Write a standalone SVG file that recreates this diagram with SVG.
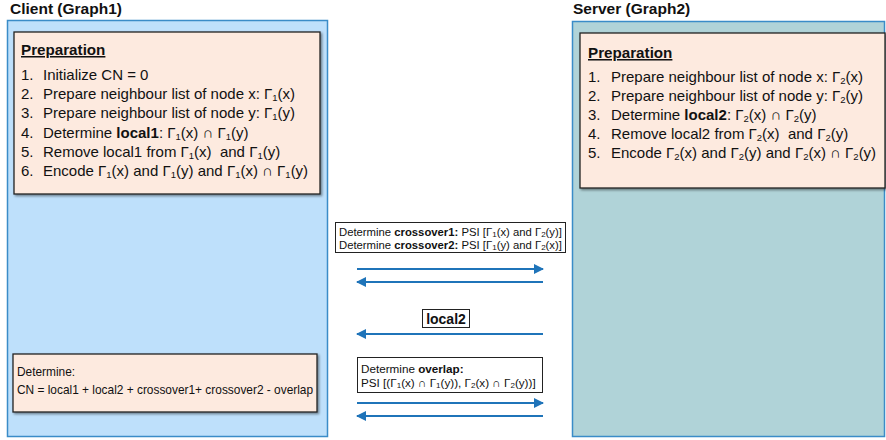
<svg xmlns="http://www.w3.org/2000/svg" width="886" height="440" viewBox="0 0 886 440">
<style>
text{font-family:"Liberation Sans",Arial,sans-serif;fill:#111}
.title{font-size:15.5px;font-weight:bold}
.t{font-size:15px}
.h{font-size:15.2px;font-weight:bold;text-decoration:underline}
.l2{font-size:14px;font-weight:bold}
.m{font-size:11.3px}
.c{font-size:11.9px}
.o{font-size:11.7px}
.s{font-size:9.5px;baseline-shift:-1.5px}
.ms{font-size:8px;baseline-shift:-1px}
.b{font-weight:bold}
.box{fill:#fdeadf;stroke:#222;stroke-width:1.3}
.wbox{fill:#fff;stroke:#222;stroke-width:1}
.arr{stroke:#1f74b9;stroke-width:2;fill:none}
</style>
<defs>
<filter id="sh" x="-5%" y="-5%" width="115%" height="115%">
<feDropShadow dx="1.5" dy="1.5" stdDeviation="1" flood-color="#000" flood-opacity="0.45"/>
</filter>
<marker id="ah" viewBox="0 0 10 10" refX="9" refY="5" markerWidth="5" markerHeight="5" orient="auto-start-reverse" markerUnits="strokeWidth">
<path d="M0,0 L10,5 L0,10 z" fill="#1f74b9"/>
</marker>
</defs>

<g id="client">
<text class="title" x="10" y="14">Client (Graph1)</text>
<rect x="7.5" y="20.5" width="320" height="416" fill="#bee0fb" stroke="#3a8cc8" stroke-width="1.5"/>
</g>

<g id="server">
<text class="title" x="573" y="14">Server (Graph2)</text>
<rect x="572.5" y="21.5" width="312" height="415" fill="#b0d3d8" stroke="#3a8cc8" stroke-width="1.5"/>
</g>

<g id="client-prep">
<rect class="box" x="14" y="32" width="306" height="162" filter="url(#sh)"/>
<text class="h" x="21" y="55">Preparation</text>
<text class="t" x="21" y="80">1.<tspan x="43">Initialize CN = 0</tspan></text>
<text class="t" x="21" y="99">2.<tspan x="43">Prepare neighbour list of node x: Γ</tspan><tspan class="s">1</tspan>(x)</text>
<text class="t" x="21" y="118">3.<tspan x="43">Prepare neighbour list of node y: Γ</tspan><tspan class="s">1</tspan>(y)</text>
<text class="t" x="21" y="138">4.<tspan x="43">Determine </tspan><tspan class="b">local1</tspan>: Γ<tspan class="s">1</tspan>(x) ∩ Γ<tspan class="s">1</tspan>(y)</text>
<text class="t" x="21" y="157">5.<tspan x="43">Remove local1 from Γ</tspan><tspan class="s">1</tspan>(x)&#160; and Γ<tspan class="s">1</tspan>(y)</text>
<text class="t" x="21" y="176">6.<tspan x="43">Encode Γ</tspan><tspan class="s">1</tspan>(x) and Γ<tspan class="s">1</tspan>(y) and Γ<tspan class="s">1</tspan>(x) ∩ Γ<tspan class="s">1</tspan>(y)</text>
</g>

<g id="server-prep">
<rect class="box" x="580" y="33" width="305" height="155" filter="url(#sh)"/>
<text class="h" x="588" y="58">Preparation</text>
<text class="t" x="588" y="82">1.<tspan x="611">Prepare neighbour list of node x: Γ</tspan><tspan class="s">2</tspan>(x)</text>
<text class="t" x="588" y="101">2.<tspan x="611">Prepare neighbour list of node y: Γ</tspan><tspan class="s">2</tspan>(y)</text>
<text class="t" x="588" y="120">3.<tspan x="611">Determine </tspan><tspan class="b">local2</tspan>: Γ<tspan class="s">2</tspan>(x) ∩ Γ<tspan class="s">2</tspan>(y)</text>
<text class="t" x="588" y="139">4.<tspan x="611">Remove local2 from Γ</tspan><tspan class="s">2</tspan>(x)&#160; and Γ<tspan class="s">2</tspan>(y)</text>
<text class="t" x="588" y="158">5.<tspan x="611">Encode Γ</tspan><tspan class="s">2</tspan>(x) and Γ<tspan class="s">2</tspan>(y) and Γ<tspan class="s">2</tspan>(x) ∩ Γ<tspan class="s">2</tspan>(y)</text>
</g>

<g id="client-result">
<rect class="box" x="13" y="354" width="304" height="58" filter="url(#sh)"/>
<text class="c" x="17" y="376">Determine:</text>
<text class="c" x="17" y="394">CN = local1 + local2 + crossover1+ crossover2 - overlap</text>
</g>

<g id="crossover-label">
<rect class="wbox" x="335.5" y="222.5" width="230" height="30"/>
<text class="m" x="339" y="236">Determine <tspan class="b">crossover1:</tspan> PSI [Γ<tspan class="ms">1</tspan>(x) and Γ<tspan class="ms">2</tspan>(y)]</text>
<text class="m" x="339" y="249">Determine <tspan class="b">crossover2:</tspan> PSI [Γ<tspan class="ms">1</tspan>(y) and Γ<tspan class="ms">2</tspan>(x)]</text>
</g>

<g id="local2-label">
<rect class="wbox" x="422.5" y="309.5" width="47" height="18"/>
<text class="l2" x="446" y="324" text-anchor="middle">local2</text>
</g>

<g id="overlap-label">
<rect class="wbox" x="357.5" y="357.5" width="185" height="35"/>
<text class="o" x="361" y="373">Determine <tspan class="b">overlap:</tspan></text>
<text class="o" x="361" y="387">PSI [(Γ<tspan class="ms">1</tspan>(x) ∩ Γ<tspan class="ms">1</tspan>(y)), Γ<tspan class="ms">2</tspan>(x) ∩ Γ<tspan class="ms">2</tspan>(y))]</text>
</g>

<g id="connectors">
<line class="arr" x1="357" y1="269" x2="543" y2="269" marker-end="url(#ah)"/>
<line class="arr" x1="543" y1="282" x2="357" y2="282" marker-end="url(#ah)"/>
<line class="arr" x1="543" y1="334" x2="357" y2="334" marker-end="url(#ah)"/>
<line class="arr" x1="357" y1="403" x2="543" y2="403" marker-end="url(#ah)"/>
<line class="arr" x1="543" y1="416" x2="357" y2="416" marker-end="url(#ah)"/>
</g>
</svg>
